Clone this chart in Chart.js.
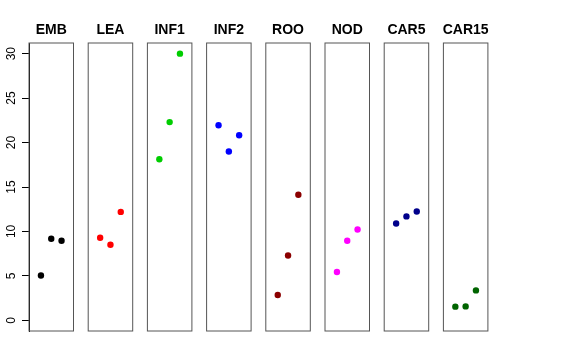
<!DOCTYPE html>
<html>
<head>
<meta charset="utf-8">
<script src="https://cdn.jsdelivr.net/npm/chart.js@4"></script>
<style>
  body { margin: 0; background: #fff; }
  #wrap { position: relative; width: 576px; height: 360px; }
  #wrap canvas { position: absolute; left: 0; top: 0; }
</style>
</head>
<body>
<div id="wrap"></div>
<script>
var panels = ['EMB', 'LEA', 'INF1', 'INF2', 'ROO', 'NOD', 'CAR5', 'CAR15'];
var colors = ['#000000', '#FF0000', '#00CD00', '#0000FF', '#8B0000', '#FF00FF', '#00008B', '#006400'];
var positions = [1, 2, 3];

var EMB = [5.05, 9.18, 8.95];
var LEA = [9.29, 8.5, 12.2];
var INF1 = [18.13, 22.3, 30.0];
var INF2 = [21.95, 18.99, 20.82];
var ROO = [2.85, 7.3, 14.12];
var NOD = [5.43, 8.95, 10.22];
var CAR5 = [10.9, 11.69, 12.25];
var CAR15 = [1.54, 1.57, 3.37];
var values = [EMB, LEA, INF1, INF2, ROO, NOD, CAR5, CAR15];

var yTicks = [0, 5, 10, 15, 20, 25, 30];

// panel boxes
var firstLeft = 29, boxW = 44.5, step = 59.2;

var boxPlugin = {
    id: 'box',
    afterDraw: function(chart, args, opts) {
        var a = chart.chartArea, c = chart.ctx;
        c.save();
        c.strokeStyle = '#555';
        c.lineWidth = 1;
        c.strokeRect(a.left, a.top, a.right - a.left, a.bottom - a.top);
        c.fillStyle = '#000';
        c.font = 'bold 14px "Liberation Sans", Arial, sans-serif';
        c.textAlign = 'center';
        c.textBaseline = 'alphabetic';
        c.fillText(opts.title, (a.left + a.right) / 2, 34);
        c.restore();
    }
};

var wrap = document.getElementById('wrap');
panels.forEach(function(name, i) {
    var cv = document.createElement('canvas');
    cv.width = 576; cv.height = 360;
    cv.style.width = '576px'; cv.style.height = '360px';
    wrap.appendChild(cv);
    var left = firstLeft + step * i;
    var first = i === 0;
    new Chart(cv.getContext('2d'), {
        type: 'scatter',
        data: {
            datasets: [{
                data: values[i].map(function(v, k) { return { x: positions[k], y: v }; }),
                backgroundColor: colors[i],
                borderColor: colors[i],
                borderWidth: 0,
                pointRadius: 3.2
            }]
        },
        plugins: [boxPlugin],
        options: {
            responsive: false,
            animation: false,
            events: [],
            layout: {
                padding: { left: first ? 0 : left, right: 576 - left - boxW, top: 43, bottom: 29 }
            },
            plugins: {
                legend: { display: false },
                tooltip: { enabled: false },
                box: { title: name }
            },
            scales: {
                x: { type: 'linear', display: false, min: -0.16, max: 4.16 },
                y: {
                    display: first,
                    min: -1.2,
                    max: 31.2,
                    afterFit: function(s) { s.width = first ? firstLeft : 0; },
                    afterBuildTicks: function(s) { s.ticks = yTicks.map(function(v) { return { value: v }; }); },
                    border: { display: true, color: '#000' },
                    grid: { drawOnChartArea: false, tickLength: 7, color: '#000', tickColor: '#000' },
                    ticks: {
                        minRotation: 90,
                        maxRotation: 90,
                        crossAlign: 'center',
                        padding: 4,
                        color: '#000',
                        font: { size: 12, family: '"Liberation Sans", Arial, sans-serif' }
                    }
                }
            }
        }
    });
});
</script>
</body>
</html>
